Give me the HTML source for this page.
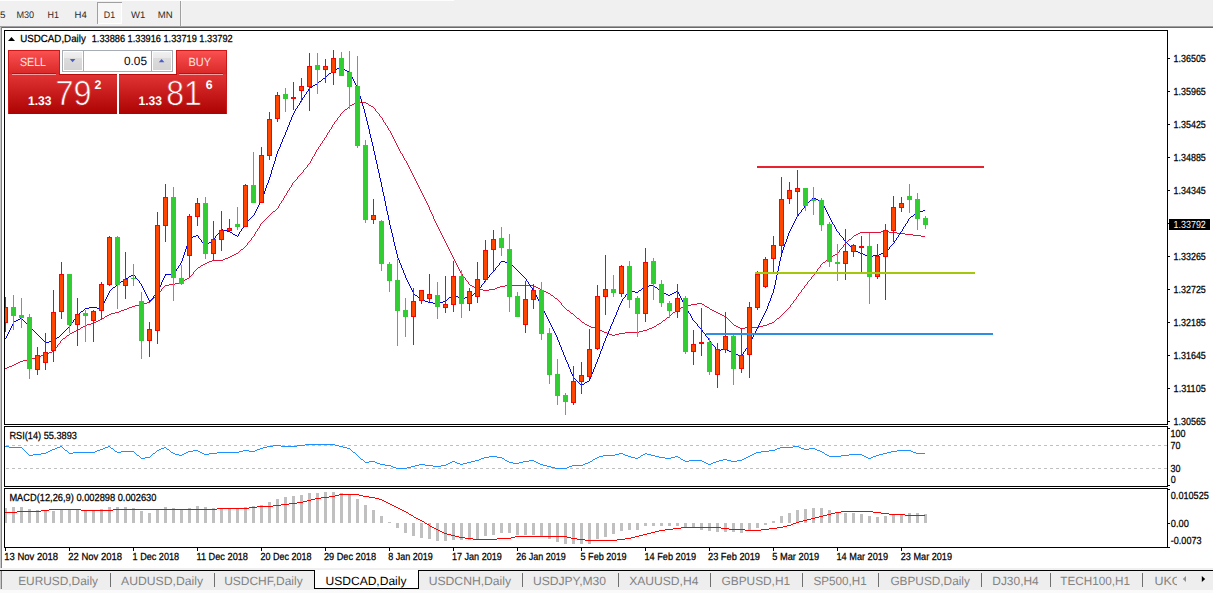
<!DOCTYPE html><html><head><meta charset="utf-8"><title>USDCAD,Daily</title>
<style>html,body{margin:0;padding:0;background:#fff;}body{width:1213px;height:593px;overflow:hidden;}svg{display:block}text{font-family:"Liberation Sans",sans-serif;text-rendering:geometricPrecision;}</style></head><body>
<svg width="1213" height="593" viewBox="0 0 1213 593">
<defs>
<linearGradient id="gbtn" x1="0" y1="0" x2="0" y2="1"><stop offset="0" stop-color="#fb5252"/><stop offset="1" stop-color="#d92626"/></linearGradient>
<linearGradient id="gbig" x1="0" y1="0" x2="0" y2="1"><stop offset="0" stop-color="#e23434"/><stop offset="1" stop-color="#ac0202"/></linearGradient>
<linearGradient id="gbigu" gradientUnits="userSpaceOnUse" x1="0" y1="74" x2="0" y2="114"><stop offset="0" stop-color="#e23434"/><stop offset="1" stop-color="#ac0202"/></linearGradient>
<linearGradient id="gsp" x1="0" y1="0" x2="0" y2="1"><stop offset="0" stop-color="#f0f0f0"/><stop offset="0.34" stop-color="#e8e8e8"/><stop offset="0.34" stop-color="#dcdcdc"/><stop offset="1" stop-color="#d4d4d4"/></linearGradient>
<clipPath id="cm"><rect x="5" y="31" width="1162" height="393"/></clipPath>
<clipPath id="cr"><rect x="5" y="427" width="1162" height="59"/></clipPath>
<clipPath id="cd"><rect x="5" y="489" width="1162" height="58"/></clipPath>
</defs>
<rect x="0" y="0" width="1213" height="593" fill="#ffffff"/>
<g shape-rendering="crispEdges">
<rect x="0" y="0" width="1213" height="26" fill="#f0f0f0"/><rect x="0" y="0" width="454" height="1" fill="#fdfdfd"/>
<rect x="0" y="26" width="1213" height="1" fill="#a0a0a0"/>
<rect x="0" y="27" width="1213" height="1" fill="#696969"/>
<rect x="0" y="27" width="1" height="544" fill="#c8c8c8"/>
<rect x="1" y="27" width="1" height="544" fill="#808080"/>
<rect x="98" y="3" width="23" height="21" fill="#f7f7f7"/><rect x="97" y="2" width="25" height="1" fill="#a0a0a0"/><rect x="97" y="2" width="1" height="22" fill="#a0a0a0"/><rect x="121" y="3" width="1" height="21" fill="#ffffff"/><rect x="98" y="23" width="24" height="1" fill="#ffffff"/>
<rect x="180" y="1" width="1" height="25" fill="#a0a0a0"/><rect x="181" y="1" width="1" height="25" fill="#f6f6f6"/>
</g>
<text x="-5.5" y="18" font-size="9.5" fill="#2a2a2a" textLength="11" lengthAdjust="spacingAndGlyphs">15</text>
<text x="16.4" y="18" font-size="9.5" fill="#2a2a2a" textLength="17.7" lengthAdjust="spacingAndGlyphs">M30</text>
<text x="47.6" y="18" font-size="9.5" fill="#2a2a2a" textLength="11.4" lengthAdjust="spacingAndGlyphs">H1</text>
<text x="74.6" y="18" font-size="9.5" fill="#2a2a2a" textLength="12.2" lengthAdjust="spacingAndGlyphs">H4</text>
<text x="103.8" y="18" font-size="9.5" fill="#2a2a2a" textLength="11.3" lengthAdjust="spacingAndGlyphs">D1</text>
<text x="131" y="18" font-size="9.5" fill="#2a2a2a" textLength="14.3" lengthAdjust="spacingAndGlyphs">W1</text>
<text x="157.7" y="18" font-size="9.5" fill="#2a2a2a" textLength="14.9" lengthAdjust="spacingAndGlyphs">MN</text>
<g shape-rendering="crispEdges" fill="none" stroke="#000" stroke-width="1">
<rect x="4.5" y="30.5" width="1163" height="394"/>
<rect x="4.5" y="426.5" width="1163" height="60"/>
<rect x="4.5" y="488.5" width="1163" height="59"/>
</g>
<path d="M5 368h2v1h-2zM7 367h2v1h-2zM9 366h3v1h-3zM12 365h2v1h-2zM14 364h2v1h-2zM16 363h2v1h-2zM18 362h2v1h-2zM20 361h3v1h-3zM23 360h4v1h-4zM27 359h4v1h-4zM31 358h4v1h-4zM35 357h4v1h-4zM39 356h2v1h-2zM41 355h3v1h-3zM44 354h3v1h-3zM47 353h2v1h-2zM49 352h3v1h-3zM52 351h2v1h-2zM54 349h1v2h-1zM55 348h1v1h-1zM56 347h1v1h-1zM57 345h1v2h-1zM58 344h1v1h-1zM59 343h1v1h-1zM60 341h1v2h-1zM61 340h1v1h-1zM62 339h1v1h-1zM63 338h2v1h-2zM65 337h1v1h-1zM66 336h1v1h-1zM67 335h2v1h-2zM69 334h1v1h-1zM70 333h2v1h-2zM72 332h2v1h-2zM74 331h2v1h-2zM76 330h2v1h-2zM78 329h2v1h-2zM80 328h1v1h-1zM81 327h2v1h-2zM83 326h2v1h-2zM85 325h2v1h-2zM87 324h4v1h-4zM91 323h3v1h-3zM94 322h2v1h-2zM96 321h2v1h-2zM98 320h2v1h-2zM100 319h2v1h-2zM102 318h2v1h-2zM104 317h1v1h-1zM105 316h2v1h-2zM107 315h2v1h-2zM109 314h2v1h-2zM111 313h4v1h-4zM115 312h4v1h-4zM119 311h2v1h-2zM121 310h3v1h-3zM124 309h3v1h-3zM127 308h2v1h-2zM129 307h3v1h-3zM132 306h3v1h-3zM135 305h4v1h-4zM139 304h4v1h-4zM143 303h4v1h-4zM147 302h3v1h-3zM150 301h1v1h-1zM151 300h1v1h-1zM152 299h1v1h-1zM153 298h1v1h-1zM154 297h1v1h-1zM155 296h1v1h-1zM156 295h1v1h-1zM157 294h1v1h-1zM158 293h1v1h-1zM159 292h1v1h-1zM160 291h1v1h-1zM161 289h1v2h-1zM162 288h1v1h-1zM163 287h1v1h-1zM164 286h1v1h-1zM165 285h4v1h-4zM169 284h6v1h-6zM175 283h4v1h-4zM179 282h3v1h-3zM182 281h2v1h-2zM184 280h1v1h-1zM185 279h2v1h-2zM187 278h2v1h-2zM189 277h1v1h-1zM190 276h1v1h-1zM191 275h1v1h-1zM192 274h1v1h-1zM193 272h1v2h-1zM194 271h1v1h-1zM195 270h1v1h-1zM196 269h1v1h-1zM197 268h1v1h-1zM198 267h2v1h-2zM200 266h1v1h-1zM201 265h2v1h-2zM203 264h2v1h-2zM205 263h2v1h-2zM207 262h2v1h-2zM209 261h3v1h-3zM212 260h11v1h-11zM223 259h2v1h-2zM225 258h3v1h-3zM228 257h2v1h-2zM230 256h2v1h-2zM232 255h2v1h-2zM234 254h2v1h-2zM236 253h2v1h-2zM238 252h1v1h-1zM239 251h1v1h-1zM240 250h1v1h-1zM241 249h2v1h-2zM243 248h1v1h-1zM244 247h1v1h-1zM245 246h1v1h-1zM246 245h1v1h-1zM247 243h1v2h-1zM248 242h1v1h-1zM249 241h1v1h-1zM250 240h1v1h-1zM251 238h1v2h-1zM252 237h1v1h-1zM253 236h1v1h-1zM254 234h1v2h-1zM255 232h1v2h-1zM256 231h1v1h-1zM257 229h1v2h-1zM258 228h1v1h-1zM259 226h1v2h-1zM260 224h1v2h-1zM261 223h1v1h-1zM262 222h1v1h-1zM263 221h1v1h-1zM264 220h1v1h-1zM265 219h1v1h-1zM266 218h1v1h-1zM267 217h1v1h-1zM268 216h1v1h-1zM269 215h1v1h-1zM270 214h1v1h-1zM271 213h1v1h-1zM272 212h1v1h-1zM273 211h2v1h-2zM275 210h1v1h-1zM276 209h1v1h-1zM277 208h1v1h-1zM278 206h1v2h-1zM279 204h1v2h-1zM280 203h1v1h-1zM281 201h1v2h-1zM282 200h1v1h-1zM283 198h1v2h-1zM284 196h1v2h-1zM285 195h1v1h-1zM286 193h1v2h-1zM287 191h1v2h-1zM288 190h1v1h-1zM289 188h1v2h-1zM290 187h1v1h-1zM291 185h1v2h-1zM292 183h1v2h-1zM293 182h1v1h-1zM294 181h1v1h-1zM295 180h1v1h-1zM296 179h1v1h-1zM297 177h1v2h-1zM298 176h1v1h-1zM299 175h1v1h-1zM300 174h1v1h-1zM301 173h1v1h-1zM302 172h1v1h-1zM303 170h1v2h-1zM304 169h1v1h-1zM305 168h1v1h-1zM306 167h1v1h-1zM307 165h1v2h-1zM308 164h1v1h-1zM309 163h1v1h-1zM310 161h1v2h-1zM311 159h1v2h-1zM312 157h1v2h-1zM313 156h1v1h-1zM314 154h1v2h-1zM315 152h1v2h-1zM316 150h1v2h-1zM317 149h1v1h-1zM318 147h1v2h-1zM319 146h1v1h-1zM320 144h1v2h-1zM321 143h1v1h-1zM322 141h1v2h-1zM323 140h1v1h-1zM324 138h1v2h-1zM325 137h1v1h-1zM326 135h1v2h-1zM327 133h1v2h-1zM328 132h1v1h-1zM329 130h1v2h-1zM330 129h1v1h-1zM331 127h1v2h-1zM332 125h1v2h-1zM333 124h1v1h-1zM334 122h1v2h-1zM335 121h1v1h-1zM336 120h1v1h-1zM337 118h1v2h-1zM338 117h1v1h-1zM339 116h1v1h-1zM340 114h1v2h-1zM341 113h1v1h-1zM342 112h1v1h-1zM343 111h1v1h-1zM344 110h1v1h-1zM345 109h2v1h-2zM347 108h1v1h-1zM348 107h1v1h-1zM349 106h1v1h-1zM350 105h2v1h-2zM352 104h2v1h-2zM354 103h2v1h-2zM356 102h10v1h-10zM366 103h2v1h-2zM368 104h1v1h-1zM369 105h2v1h-2zM371 106h2v1h-2zM373 107h1v1h-1zM374 108h1v1h-1zM375 109h1v2h-1zM376 111h1v1h-1zM377 112h1v1h-1zM378 113h1v1h-1zM379 114h1v2h-1zM380 116h1v1h-1zM381 117h1v1h-1zM382 118h1v2h-1zM383 120h1v2h-1zM384 122h1v1h-1zM385 123h1v2h-1zM386 125h1v1h-1zM387 126h1v2h-1zM388 128h1v2h-1zM389 130h1v1h-1zM390 131h1v2h-1zM391 133h1v2h-1zM392 135h1v2h-1zM393 137h1v2h-1zM394 139h1v2h-1zM395 141h1v2h-1zM396 143h1v2h-1zM397 145h1v2h-1zM398 147h1v2h-1zM399 149h1v2h-1zM400 151h1v2h-1zM401 153h1v1h-1zM402 154h1v2h-1zM403 156h1v2h-1zM404 158h1v2h-1zM405 160h1v1h-1zM406 161h1v2h-1zM407 163h1v2h-1zM408 165h1v2h-1zM409 167h1v2h-1zM410 169h1v2h-1zM411 171h1v2h-1zM412 173h1v2h-1zM413 175h1v2h-1zM414 177h1v2h-1zM415 179h1v2h-1zM416 181h1v2h-1zM417 183h1v2h-1zM418 185h1v2h-1zM419 187h1v2h-1zM420 189h1v2h-1zM421 191h1v2h-1zM422 193h1v2h-1zM423 195h1v2h-1zM424 197h1v2h-1zM425 199h1v2h-1zM426 201h1v2h-1zM427 203h1v2h-1zM428 205h1v2h-1zM429 207h1v3h-1zM430 210h1v2h-1zM431 212h1v2h-1zM432 214h1v2h-1zM433 216h1v3h-1zM434 219h1v2h-1zM435 221h1v2h-1zM436 223h1v2h-1zM437 225h1v2h-1zM438 227h1v2h-1zM439 229h1v2h-1zM440 231h1v2h-1zM441 233h1v2h-1zM442 235h1v2h-1zM443 237h1v2h-1zM444 239h1v2h-1zM445 241h1v2h-1zM446 243h1v2h-1zM447 245h1v2h-1zM448 247h1v2h-1zM449 249h1v2h-1zM450 251h1v2h-1zM451 253h1v2h-1zM452 255h1v2h-1zM453 257h1v2h-1zM454 259h1v2h-1zM455 261h1v2h-1zM456 263h1v2h-1zM457 265h1v2h-1zM458 267h1v2h-1zM459 269h1v2h-1zM460 271h1v2h-1zM461 273h1v1h-1zM462 274h1v2h-1zM463 276h1v1h-1zM464 277h1v1h-1zM465 278h1v2h-1zM466 280h1v1h-1zM467 281h1v1h-1zM468 282h1v2h-1zM469 284h1v1h-1zM470 285h2v1h-2zM472 286h2v1h-2zM474 287h2v1h-2zM476 288h3v1h-3zM479 289h4v1h-4zM483 290h6v1h-6zM489 289h6v1h-6zM495 288h2v1h-2zM497 287h3v1h-3zM500 286h5v1h-5zM505 285h29v1h-29zM534 286h2v1h-2zM536 287h2v1h-2zM538 288h2v1h-2zM540 289h2v1h-2zM542 290h2v1h-2zM544 291h2v1h-2zM546 292h2v1h-2zM548 293h2v1h-2zM550 294h1v1h-1zM551 295h2v1h-2zM553 296h1v1h-1zM554 297h1v1h-1zM555 298h2v1h-2zM557 299h1v1h-1zM558 300h1v1h-1zM559 301h1v1h-1zM560 302h1v1h-1zM561 303h1v2h-1zM562 305h1v1h-1zM563 306h1v1h-1zM564 307h1v1h-1zM565 308h1v1h-1zM566 309h1v1h-1zM567 310h2v1h-2zM569 311h1v1h-1zM570 312h1v1h-1zM571 313h2v1h-2zM573 314h1v1h-1zM574 315h1v1h-1zM575 316h1v1h-1zM576 317h1v1h-1zM577 318h2v1h-2zM579 319h1v1h-1zM580 320h1v1h-1zM581 321h1v1h-1zM582 322h2v1h-2zM584 323h1v1h-1zM585 324h2v1h-2zM587 325h2v1h-2zM589 326h2v1h-2zM591 327h4v1h-4zM595 328h3v1h-3zM598 329h2v1h-2zM600 330h2v1h-2zM602 331h2v1h-2zM604 332h3v1h-3zM607 333h2v1h-2zM609 334h3v1h-3zM612 335h3v1h-3zM615 334h4v1h-4zM619 333h6v1h-6zM625 332h14v1h-14zM639 331h4v1h-4zM643 330h4v1h-4zM647 329h2v1h-2zM649 328h3v1h-3zM652 327h2v1h-2zM654 326h2v1h-2zM656 325h1v1h-1zM657 324h2v1h-2zM659 323h2v1h-2zM661 322h1v1h-1zM662 321h1v1h-1zM663 320h2v1h-2zM665 319h1v1h-1zM666 318h1v1h-1zM667 317h2v1h-2zM669 316h1v1h-1zM670 315h1v1h-1zM671 314h1v1h-1zM672 313h1v1h-1zM673 312h2v1h-2zM675 311h1v1h-1zM676 310h1v1h-1zM677 309h2v1h-2zM679 308h2v1h-2zM681 307h3v1h-3zM684 306h3v1h-3zM687 305h4v1h-4zM691 304h6v1h-6zM697 303h5v1h-5zM702 304h2v1h-2zM704 305h1v1h-1zM705 306h2v1h-2zM707 307h2v1h-2zM709 308h1v1h-1zM710 309h2v1h-2zM712 310h2v1h-2zM714 311h2v1h-2zM716 312h2v1h-2zM718 313h2v1h-2zM720 314h2v1h-2zM722 315h2v1h-2zM724 316h2v1h-2zM726 317h1v1h-1zM727 318h1v1h-1zM728 319h1v1h-1zM729 320h1v1h-1zM730 321h1v1h-1zM731 322h1v1h-1zM732 323h1v1h-1zM733 324h1v1h-1zM734 325h2v1h-2zM736 326h2v1h-2zM738 327h2v1h-2zM740 328h5v1h-5zM745 327h14v1h-14zM759 326h4v1h-4zM763 325h4v1h-4zM767 324h2v1h-2zM769 323h3v1h-3zM772 322h2v1h-2zM774 321h1v1h-1zM775 320h1v1h-1zM776 319h1v1h-1zM777 318h2v1h-2zM779 317h1v1h-1zM780 316h1v1h-1zM781 315h1v1h-1zM782 314h1v1h-1zM783 313h1v1h-1zM784 312h1v1h-1zM785 311h1v1h-1zM786 310h1v1h-1zM787 309h1v1h-1zM788 308h1v1h-1zM789 307h1v1h-1zM790 305h1v2h-1zM791 304h1v1h-1zM792 303h1v1h-1zM793 301h1v2h-1zM794 300h1v1h-1zM795 299h1v1h-1zM796 297h1v2h-1zM797 296h1v1h-1zM798 294h1v2h-1zM799 293h1v1h-1zM800 292h1v1h-1zM801 290h1v2h-1zM802 289h1v1h-1zM803 288h1v1h-1zM804 286h1v2h-1zM805 285h1v1h-1zM806 284h1v1h-1zM807 282h1v2h-1zM808 281h1v1h-1zM809 280h1v1h-1zM810 279h1v1h-1zM811 277h1v2h-1zM812 276h1v1h-1zM813 275h1v1h-1zM814 273h1v2h-1zM815 272h1v1h-1zM816 271h1v1h-1zM817 269h1v2h-1zM818 268h1v1h-1zM819 267h1v1h-1zM820 265h1v2h-1zM821 264h1v1h-1zM822 263h1v1h-1zM823 262h2v1h-2zM825 261h1v1h-1zM826 260h1v1h-1zM827 259h2v1h-2zM829 258h1v1h-1zM830 257h2v1h-2zM832 256h1v1h-1zM833 255h2v1h-2zM835 254h2v1h-2zM837 253h1v1h-1zM838 252h1v1h-1zM839 250h1v2h-1zM840 249h1v1h-1zM841 248h1v1h-1zM842 247h1v1h-1zM843 245h1v2h-1zM844 244h1v1h-1zM845 243h1v1h-1zM846 242h1v1h-1zM847 241h1v1h-1zM848 240h1v1h-1zM849 239h2v1h-2zM851 238h1v1h-1zM852 237h1v1h-1zM853 236h1v1h-1zM854 235h2v1h-2zM856 234h2v1h-2zM858 233h2v1h-2zM860 232h21v1h-21zM881 231h8v1h-8zM889 232h8v1h-8zM897 233h8v1h-8zM905 234h8v1h-8zM913 235h8v1h-8zM921 236h4v1h-4z" fill="#dc143c" clip-path="url(#cm)" shape-rendering="crispEdges"/>
<path d="M5 338h1v1h-1zM6 336h1v2h-1zM7 334h1v2h-1zM8 332h1v2h-1zM9 330h1v2h-1zM10 328h1v2h-1zM11 326h1v2h-1zM12 324h1v2h-1zM13 322h1v2h-1zM14 321h2v1h-2zM16 320h2v1h-2zM18 319h2v1h-2zM20 318h2v1h-2zM22 319h1v1h-1zM23 320h1v1h-1zM24 321h1v1h-1zM25 322h1v1h-1zM26 323h1v1h-1zM27 324h1v1h-1zM28 325h1v1h-1zM29 326h1v1h-1zM30 327h1v1h-1zM31 328h1v1h-1zM32 329h1v1h-1zM33 330h1v1h-1zM34 331h1v1h-1zM35 332h1v1h-1zM36 333h1v1h-1zM37 334h1v1h-1zM38 335h1v1h-1zM39 336h1v1h-1zM40 337h1v1h-1zM41 338h1v1h-1zM42 339h1v1h-1zM43 340h1v1h-1zM44 341h1v1h-1zM45 342h4v1h-4zM49 341h5v1h-5zM54 340h1v1h-1zM55 339h1v1h-1zM56 338h1v1h-1zM57 337h2v1h-2zM59 336h1v1h-1zM60 335h1v1h-1zM61 334h1v1h-1zM62 333h1v1h-1zM63 332h1v1h-1zM64 331h1v1h-1zM65 330h1v1h-1zM66 329h1v1h-1zM67 328h1v1h-1zM68 327h1v1h-1zM69 326h1v1h-1zM70 324h1v2h-1zM71 323h1v1h-1zM72 322h1v1h-1zM73 320h1v2h-1zM74 319h1v1h-1zM75 318h1v1h-1zM76 316h1v2h-1zM77 315h1v1h-1zM78 314h1v1h-1zM79 313h1v1h-1zM80 312h1v1h-1zM81 311h2v1h-2zM83 310h1v1h-1zM84 309h1v1h-1zM85 308h4v1h-4zM89 307h8v1h-8zM97 308h5v1h-5zM101 307h1v1h-1zM102 305h1v2h-1zM103 303h1v2h-1zM104 301h1v2h-1zM105 299h1v2h-1zM106 297h1v2h-1zM107 295h1v2h-1zM108 293h1v2h-1zM109 291h1v2h-1zM110 290h1v1h-1zM111 289h1v1h-1zM112 288h1v1h-1zM113 287h2v1h-2zM115 286h1v1h-1zM116 285h1v1h-1zM117 284h1v1h-1zM118 283h2v1h-2zM120 282h1v1h-1zM121 281h2v1h-2zM123 280h2v1h-2zM125 279h1v1h-1zM126 278h2v1h-2zM128 277h1v1h-1zM129 276h2v1h-2zM131 275h2v1h-2zM133 274h1v1h-1zM134 275h1v1h-1zM135 276h1v2h-1zM136 278h1v1h-1zM137 279h1v1h-1zM138 280h1v1h-1zM139 281h1v2h-1zM140 283h1v1h-1zM141 284h1v2h-1zM142 286h1v2h-1zM143 288h1v2h-1zM144 290h1v2h-1zM145 292h1v2h-1zM146 294h1v2h-1zM147 296h1v2h-1zM148 298h1v2h-1zM149 300h2v1h-2zM149 301h1v1h-1zM151 299h1v1h-1zM152 298h1v1h-1zM153 296h1v2h-1zM154 295h1v1h-1zM155 294h1v1h-1zM156 293h1v1h-1zM157 291h1v2h-1zM158 289h1v2h-1zM159 287h1v2h-1zM160 285h1v2h-1zM161 282h1v3h-1zM162 280h1v2h-1zM163 278h1v2h-1zM164 276h1v2h-1zM165 274h9v1h-9zM165 275h1v1h-1zM174 272h1v2h-1zM175 271h1v1h-1zM176 269h1v2h-1zM177 268h1v1h-1zM178 266h1v2h-1zM179 265h1v1h-1zM180 263h1v2h-1zM181 261h1v2h-1zM182 258h1v3h-1zM183 255h1v3h-1zM184 252h1v3h-1zM185 249h1v3h-1zM186 246h1v3h-1zM187 243h1v3h-1zM188 240h1v3h-1zM189 238h2v1h-2zM189 239h1v1h-1zM191 237h2v1h-2zM193 236h3v1h-3zM196 235h2v1h-2zM198 236h1v2h-1zM199 238h1v1h-1zM200 239h1v1h-1zM201 240h1v2h-1zM202 242h1v1h-1zM203 243h1v1h-1zM204 244h1v2h-1zM205 246h1v1h-1zM206 245h1v1h-1zM207 244h1v1h-1zM208 243h1v1h-1zM209 242h2v1h-2zM211 241h1v1h-1zM212 240h1v1h-1zM213 239h1v1h-1zM214 238h1v1h-1zM215 236h1v2h-1zM216 235h1v1h-1zM217 234h1v1h-1zM218 233h1v1h-1zM219 231h1v2h-1zM220 230h1v1h-1zM221 229h2v1h-2zM223 230h4v1h-4zM227 231h3v1h-3zM230 232h2v1h-2zM232 233h1v1h-1zM233 234h2v1h-2zM235 235h2v1h-2zM237 236h1v1h-1zM238 234h1v2h-1zM239 232h1v2h-1zM240 231h1v1h-1zM241 229h1v2h-1zM242 228h1v1h-1zM243 226h1v2h-1zM244 224h1v2h-1zM245 223h1v1h-1zM246 222h1v1h-1zM247 221h1v1h-1zM248 220h1v1h-1zM249 219h1v1h-1zM250 218h1v1h-1zM251 217h1v1h-1zM252 216h1v1h-1zM253 215h1v1h-1zM254 213h1v2h-1zM255 211h1v2h-1zM256 209h1v2h-1zM257 207h1v2h-1zM258 205h1v2h-1zM259 203h1v2h-1zM260 201h1v2h-1zM261 199h1v2h-1zM262 196h1v3h-1zM263 194h1v2h-1zM264 191h1v3h-1zM265 188h1v3h-1zM266 185h1v3h-1zM267 183h1v2h-1zM268 180h1v3h-1zM269 177h1v3h-1zM270 174h1v3h-1zM271 170h1v4h-1zM272 167h1v3h-1zM273 164h1v3h-1zM274 161h1v3h-1zM275 157h1v4h-1zM276 154h1v3h-1zM277 151h1v3h-1zM278 149h1v2h-1zM279 147h1v2h-1zM280 144h1v3h-1zM281 142h1v2h-1zM282 139h1v3h-1zM283 137h1v2h-1zM284 135h1v2h-1zM285 132h1v3h-1zM286 130h1v2h-1zM287 127h1v3h-1zM288 125h1v2h-1zM289 122h1v3h-1zM290 120h1v2h-1zM291 117h1v3h-1zM292 115h1v2h-1zM293 113h1v2h-1zM294 111h1v2h-1zM295 109h1v2h-1zM296 108h1v1h-1zM297 106h1v2h-1zM298 105h1v1h-1zM299 103h1v2h-1zM300 101h1v2h-1zM301 100h1v1h-1zM302 98h1v2h-1zM303 97h1v1h-1zM304 95h1v2h-1zM305 94h1v1h-1zM306 92h1v2h-1zM307 91h1v1h-1zM308 89h1v2h-1zM309 88h1v1h-1zM310 87h2v1h-2zM312 86h1v1h-1zM313 85h2v1h-2zM315 84h2v1h-2zM317 83h1v1h-1zM318 82h1v1h-1zM319 81h2v1h-2zM321 80h1v1h-1zM322 79h1v1h-1zM323 78h2v1h-2zM325 77h1v1h-1zM326 76h1v1h-1zM327 75h1v1h-1zM328 74h1v1h-1zM329 73h2v1h-2zM331 72h1v1h-1zM332 71h1v1h-1zM333 70h2v1h-2zM335 69h2v1h-2zM337 68h3v1h-3zM340 67h2v1h-2zM342 68h2v1h-2zM344 69h1v1h-1zM345 70h2v1h-2zM347 71h2v1h-2zM349 72h1v1h-1zM350 73h1v2h-1zM351 75h1v2h-1zM352 77h1v2h-1zM353 79h1v2h-1zM354 81h1v2h-1zM355 83h1v2h-1zM356 85h1v2h-1zM357 87h1v2h-1zM358 89h1v4h-1zM359 93h1v3h-1zM360 96h1v3h-1zM361 99h1v4h-1zM362 103h1v3h-1zM363 106h1v3h-1zM364 109h1v4h-1zM365 113h1v4h-1zM366 117h1v4h-1zM367 121h1v4h-1zM368 125h1v4h-1zM369 129h1v5h-1zM370 134h1v4h-1zM371 138h1v4h-1zM372 142h1v4h-1zM373 146h1v5h-1zM374 151h1v4h-1zM375 155h1v5h-1zM376 160h1v4h-1zM377 164h1v5h-1zM378 169h1v4h-1zM379 173h1v5h-1zM380 178h1v4h-1zM381 182h1v5h-1zM382 187h1v5h-1zM383 192h1v4h-1zM384 196h1v5h-1zM385 201h1v5h-1zM386 206h1v5h-1zM387 211h1v4h-1zM388 215h1v5h-1zM389 220h1v5h-1zM390 225h1v4h-1zM391 229h1v4h-1zM392 233h1v4h-1zM393 237h1v5h-1zM394 242h1v4h-1zM395 246h1v4h-1zM396 250h1v4h-1zM397 254h1v4h-1zM398 258h1v2h-1zM399 260h1v3h-1zM400 263h1v2h-1zM401 265h1v3h-1zM402 268h1v2h-1zM403 270h1v3h-1zM404 273h1v2h-1zM405 275h1v3h-1zM406 278h1v2h-1zM407 280h1v2h-1zM408 282h1v2h-1zM409 284h1v2h-1zM410 286h1v2h-1zM411 288h1v2h-1zM412 290h1v2h-1zM413 292h1v2h-1zM414 294h1v1h-1zM415 295h2v1h-2zM417 296h1v1h-1zM418 297h1v1h-1zM419 298h2v1h-2zM421 299h2v1h-2zM423 300h2v1h-2zM425 301h3v1h-3zM428 302h5v1h-5zM433 303h6v1h-6zM439 302h4v1h-4zM443 301h3v1h-3zM446 300h1v1h-1zM447 299h1v1h-1zM448 298h1v1h-1zM449 297h2v1h-2zM451 296h1v1h-1zM452 295h1v1h-1zM453 294h1v1h-1zM454 295h2v1h-2zM456 296h2v1h-2zM458 297h2v1h-2zM460 298h5v1h-5zM465 297h5v1h-5zM470 296h1v1h-1zM471 295h2v1h-2zM473 294h1v1h-1zM474 293h1v1h-1zM475 292h2v1h-2zM477 291h1v1h-1zM478 289h1v2h-1zM479 288h1v1h-1zM480 287h1v1h-1zM481 285h1v2h-1zM482 284h1v1h-1zM483 283h1v1h-1zM484 281h1v2h-1zM485 280h1v1h-1zM486 279h1v1h-1zM487 278h1v1h-1zM488 277h1v1h-1zM489 275h1v2h-1zM490 274h1v1h-1zM491 273h1v1h-1zM492 272h1v1h-1zM493 271h1v1h-1zM494 270h1v1h-1zM495 268h1v2h-1zM496 267h1v1h-1zM497 266h1v1h-1zM498 265h1v1h-1zM499 263h1v2h-1zM500 262h1v1h-1zM501 261h4v1h-4zM505 262h5v1h-5zM510 263h1v1h-1zM511 264h1v1h-1zM512 265h1v1h-1zM513 266h1v1h-1zM514 267h1v1h-1zM515 268h1v1h-1zM516 269h1v1h-1zM517 270h1v1h-1zM518 271h1v1h-1zM519 272h1v1h-1zM520 273h1v1h-1zM521 274h1v1h-1zM522 275h1v1h-1zM523 276h1v1h-1zM524 277h1v1h-1zM525 278h1v1h-1zM526 279h1v2h-1zM527 281h1v1h-1zM528 282h1v2h-1zM529 284h1v1h-1zM530 285h1v2h-1zM531 287h1v1h-1zM532 288h1v2h-1zM533 290h1v1h-1zM534 291h1v2h-1zM535 293h1v2h-1zM536 295h1v2h-1zM537 297h1v2h-1zM538 299h1v2h-1zM539 301h1v2h-1zM540 303h1v2h-1zM541 305h1v2h-1zM542 307h1v2h-1zM543 309h1v2h-1zM544 311h1v2h-1zM545 313h1v2h-1zM546 315h1v2h-1zM547 317h1v2h-1zM548 319h1v2h-1zM549 321h1v2h-1zM550 323h1v2h-1zM551 325h1v2h-1zM552 327h1v2h-1zM553 329h1v2h-1zM554 331h1v2h-1zM555 333h1v2h-1zM556 335h1v2h-1zM557 337h1v3h-1zM558 340h1v2h-1zM559 342h1v3h-1zM560 345h1v2h-1zM561 347h1v3h-1zM562 350h1v2h-1zM563 352h1v3h-1zM564 355h1v2h-1zM565 357h1v3h-1zM566 360h1v2h-1zM567 362h1v2h-1zM568 364h1v3h-1zM569 367h1v2h-1zM570 369h1v3h-1zM571 372h1v2h-1zM572 374h1v2h-1zM573 376h1v2h-1zM574 378h1v1h-1zM575 379h1v1h-1zM576 380h1v1h-1zM577 381h1v1h-1zM578 382h1v1h-1zM579 383h1v1h-1zM580 384h1v1h-1zM581 385h1v1h-1zM582 384h2v1h-2zM584 383h1v1h-1zM585 382h2v1h-2zM587 381h2v1h-2zM589 379h1v2h-1zM590 377h1v2h-1zM591 374h1v3h-1zM592 372h1v2h-1zM593 369h1v3h-1zM594 367h1v2h-1zM595 364h1v3h-1zM596 362h1v2h-1zM597 359h1v3h-1zM598 357h1v2h-1zM599 354h1v3h-1zM600 351h1v3h-1zM601 349h1v2h-1zM602 346h1v3h-1zM603 343h1v3h-1zM604 341h1v2h-1zM605 338h1v3h-1zM606 336h1v2h-1zM607 334h1v2h-1zM608 331h1v3h-1zM609 329h1v2h-1zM610 326h1v3h-1zM611 324h1v2h-1zM612 322h1v2h-1zM613 319h1v3h-1zM614 317h1v2h-1zM615 315h1v2h-1zM616 312h1v3h-1zM617 310h1v2h-1zM618 307h1v3h-1zM619 305h1v2h-1zM620 303h1v2h-1zM621 301h1v2h-1zM622 299h1v2h-1zM623 298h1v1h-1zM624 297h1v1h-1zM625 295h1v2h-1zM626 294h1v1h-1zM627 293h1v1h-1zM628 291h1v2h-1zM629 290h2v1h-2zM631 291h4v1h-4zM635 292h3v1h-3zM638 291h1v1h-1zM639 290h2v1h-2zM641 289h1v1h-1zM642 288h1v1h-1zM643 287h2v1h-2zM645 286h4v1h-4zM649 285h5v1h-5zM654 286h1v1h-1zM655 287h2v1h-2zM657 288h1v1h-1zM658 289h1v1h-1zM659 290h2v1h-2zM661 291h1v1h-1zM662 292h2v1h-2zM664 293h2v1h-2zM666 294h2v1h-2zM668 295h2v1h-2zM670 294h2v1h-2zM672 293h2v1h-2zM674 292h2v1h-2zM676 291h2v1h-2zM678 292h1v2h-1zM679 294h1v2h-1zM680 296h1v2h-1zM681 298h1v2h-1zM682 300h1v2h-1zM683 302h1v2h-1zM684 304h1v2h-1zM685 306h1v1h-1zM686 307h1v2h-1zM687 309h1v2h-1zM688 311h1v2h-1zM689 313h1v1h-1zM690 314h1v2h-1zM691 316h1v2h-1zM692 318h1v2h-1zM693 320h1v1h-1zM694 321h1v1h-1zM695 322h1v1h-1zM696 323h1v1h-1zM697 324h1v2h-1zM698 326h1v1h-1zM699 327h1v1h-1zM700 328h1v1h-1zM701 329h1v1h-1zM702 330h1v2h-1zM703 332h1v1h-1zM704 333h1v1h-1zM705 334h1v2h-1zM706 336h1v1h-1zM707 337h1v1h-1zM708 338h1v2h-1zM709 340h1v1h-1zM710 341h1v1h-1zM711 342h1v2h-1zM712 344h1v1h-1zM713 345h1v1h-1zM714 346h1v1h-1zM715 347h1v2h-1zM716 349h1v1h-1zM717 350h4v1h-4zM721 349h6v1h-6zM727 350h2v1h-2zM729 351h3v1h-3zM732 352h2v1h-2zM734 353h2v1h-2zM736 354h2v1h-2zM738 355h2v1h-2zM740 356h2v1h-2zM742 354h1v2h-1zM743 352h1v2h-1zM744 351h1v1h-1zM745 349h1v2h-1zM746 348h1v1h-1zM747 346h1v2h-1zM748 344h1v2h-1zM749 343h1v1h-1zM750 341h1v2h-1zM751 339h1v2h-1zM752 337h1v2h-1zM753 335h1v2h-1zM754 333h1v2h-1zM755 331h1v2h-1zM756 329h1v2h-1zM757 327h1v2h-1zM758 325h1v2h-1zM759 323h1v2h-1zM760 321h1v2h-1zM761 319h1v2h-1zM762 317h1v2h-1zM763 315h1v2h-1zM764 313h1v2h-1zM765 311h1v2h-1zM766 309h1v2h-1zM767 306h1v3h-1zM768 303h1v3h-1zM769 301h1v2h-1zM770 298h1v3h-1zM771 295h1v3h-1zM772 293h1v2h-1zM773 289h1v4h-1zM774 285h1v4h-1zM775 280h1v5h-1zM776 275h1v5h-1zM777 271h1v4h-1zM778 266h1v5h-1zM779 261h1v5h-1zM780 257h1v4h-1zM781 253h1v4h-1zM782 250h1v3h-1zM783 247h1v3h-1zM784 244h1v3h-1zM785 242h1v2h-1zM786 239h1v3h-1zM787 236h1v3h-1zM788 233h1v3h-1zM789 231h1v2h-1zM790 229h1v2h-1zM791 227h1v2h-1zM792 225h1v2h-1zM793 223h1v2h-1zM794 221h1v2h-1zM795 219h1v2h-1zM796 217h1v2h-1zM797 216h1v1h-1zM798 214h1v2h-1zM799 213h1v1h-1zM800 212h1v1h-1zM801 210h1v2h-1zM802 209h1v1h-1zM803 208h1v1h-1zM804 206h1v2h-1zM805 205h1v1h-1zM806 204h1v1h-1zM807 203h1v1h-1zM808 202h1v1h-1zM809 201h1v1h-1zM810 200h1v1h-1zM811 199h1v1h-1zM812 198h1v1h-1zM813 197h1v1h-1zM814 198h2v1h-2zM816 199h2v1h-2zM818 200h2v1h-2zM820 201h2v1h-2zM822 202h1v2h-1zM823 204h1v2h-1zM824 206h1v2h-1zM825 208h1v2h-1zM826 210h1v2h-1zM827 212h1v2h-1zM828 214h1v2h-1zM829 216h1v2h-1zM830 218h1v2h-1zM831 220h1v2h-1zM832 222h1v2h-1zM833 224h1v1h-1zM834 225h1v2h-1zM835 227h1v2h-1zM836 229h1v2h-1zM837 231h1v1h-1zM838 232h1v1h-1zM839 233h1v2h-1zM840 235h1v1h-1zM841 236h1v1h-1zM842 237h1v1h-1zM843 238h1v2h-1zM844 240h1v1h-1zM845 241h1v1h-1zM846 242h1v1h-1zM847 243h1v1h-1zM848 244h1v1h-1zM849 245h1v1h-1zM850 246h1v1h-1zM851 247h1v1h-1zM852 248h1v1h-1zM853 249h1v1h-1zM854 250h2v1h-2zM856 251h2v1h-2zM858 252h2v1h-2zM860 253h3v1h-3zM863 254h2v1h-2zM865 255h3v1h-3zM868 256h5v1h-5zM873 255h6v1h-6zM879 254h2v1h-2zM881 253h3v1h-3zM884 252h2v1h-2zM886 251h1v1h-1zM887 250h1v1h-1zM888 249h1v1h-1zM889 247h1v2h-1zM890 246h1v1h-1zM891 245h1v1h-1zM892 244h1v1h-1zM893 243h1v1h-1zM894 241h1v2h-1zM895 240h1v1h-1zM896 238h1v2h-1zM897 237h1v1h-1zM898 235h1v2h-1zM899 234h1v1h-1zM900 232h1v2h-1zM901 231h1v1h-1zM902 229h1v2h-1zM903 227h1v2h-1zM904 226h1v1h-1zM905 224h1v2h-1zM906 223h1v1h-1zM907 221h1v2h-1zM908 219h1v2h-1zM909 218h1v1h-1zM910 217h1v1h-1zM911 216h2v1h-2zM913 215h1v1h-1zM914 214h1v1h-1zM915 213h2v1h-2zM917 212h2v1h-2zM919 211h4v1h-4zM923 210h2v1h-2z" fill="#0000e0" clip-path="url(#cm)" shape-rendering="crispEdges"/>
<g shape-rendering="crispEdges" clip-path="url(#cm)">
<rect x="5" y="297" width="1" height="35" fill="#ff0000"/>
<rect x="3" y="307" width="5" height="16" fill="#ff0000"/>
<rect x="4" y="308" width="3" height="14" fill="#ff4500"/>
<rect x="13" y="295" width="1" height="35" fill="#32cd32"/>
<rect x="11" y="307" width="5" height="9" fill="#32cd32"/>
<rect x="21" y="298" width="1" height="30" fill="#32cd32"/>
<rect x="19" y="315" width="5" height="3" fill="#32cd32"/>
<rect x="29" y="314" width="1" height="65" fill="#32cd32"/>
<rect x="27" y="317" width="5" height="52" fill="#32cd32"/>
<rect x="37" y="347" width="1" height="28" fill="#ff0000"/>
<rect x="35" y="355" width="5" height="15" fill="#ff0000"/>
<rect x="36" y="356" width="3" height="13" fill="#ff4500"/>
<rect x="45" y="333" width="1" height="37" fill="#ff0000"/>
<rect x="43" y="352" width="5" height="11" fill="#ff0000"/>
<rect x="44" y="353" width="3" height="9" fill="#ff4500"/>
<rect x="53" y="290" width="1" height="72" fill="#ff0000"/>
<rect x="51" y="312" width="5" height="39" fill="#ff0000"/>
<rect x="52" y="313" width="3" height="37" fill="#ff4500"/>
<rect x="61" y="262" width="1" height="57" fill="#ff0000"/>
<rect x="59" y="274" width="5" height="38" fill="#ff0000"/>
<rect x="60" y="275" width="3" height="36" fill="#ff4500"/>
<rect x="69" y="274" width="1" height="59" fill="#32cd32"/>
<rect x="67" y="274" width="5" height="51" fill="#32cd32"/>
<rect x="77" y="298" width="1" height="48" fill="#ff0000"/>
<rect x="75" y="314" width="5" height="11" fill="#ff0000"/>
<rect x="76" y="315" width="3" height="9" fill="#ff4500"/>
<rect x="85" y="310" width="1" height="32" fill="#32cd32"/>
<rect x="83" y="313" width="5" height="3" fill="#32cd32"/>
<rect x="93" y="310" width="1" height="32" fill="#ff0000"/>
<rect x="91" y="311" width="5" height="10" fill="#ff0000"/>
<rect x="92" y="312" width="3" height="8" fill="#ff4500"/>
<rect x="101" y="282" width="1" height="37" fill="#ff0000"/>
<rect x="99" y="284" width="5" height="27" fill="#ff0000"/>
<rect x="100" y="285" width="3" height="25" fill="#ff4500"/>
<rect x="109" y="236" width="1" height="50" fill="#ff0000"/>
<rect x="107" y="237" width="5" height="48" fill="#ff0000"/>
<rect x="108" y="238" width="3" height="46" fill="#ff4500"/>
<rect x="117" y="236" width="1" height="73" fill="#32cd32"/>
<rect x="115" y="237" width="5" height="48" fill="#32cd32"/>
<rect x="125" y="252" width="1" height="47" fill="#ff0000"/>
<rect x="123" y="279" width="5" height="7" fill="#ff0000"/>
<rect x="124" y="280" width="3" height="5" fill="#ff4500"/>
<rect x="133" y="264" width="1" height="22" fill="#32cd32"/>
<rect x="131" y="278" width="5" height="1" fill="#32cd32"/>
<rect x="141" y="292" width="1" height="67" fill="#32cd32"/>
<rect x="139" y="301" width="5" height="40" fill="#32cd32"/>
<rect x="149" y="322" width="1" height="35" fill="#ff0000"/>
<rect x="147" y="329" width="5" height="12" fill="#ff0000"/>
<rect x="148" y="330" width="3" height="10" fill="#ff4500"/>
<rect x="157" y="212" width="1" height="132" fill="#ff0000"/>
<rect x="155" y="225" width="5" height="106" fill="#ff0000"/>
<rect x="156" y="226" width="3" height="104" fill="#ff4500"/>
<rect x="165" y="184" width="1" height="58" fill="#ff0000"/>
<rect x="163" y="197" width="5" height="29" fill="#ff0000"/>
<rect x="164" y="198" width="3" height="27" fill="#ff4500"/>
<rect x="173" y="187" width="1" height="114" fill="#32cd32"/>
<rect x="171" y="197" width="5" height="81" fill="#32cd32"/>
<rect x="181" y="265" width="1" height="20" fill="#32cd32"/>
<rect x="179" y="278" width="5" height="6" fill="#32cd32"/>
<rect x="189" y="214" width="1" height="63" fill="#ff0000"/>
<rect x="187" y="216" width="5" height="40" fill="#ff0000"/>
<rect x="188" y="217" width="3" height="38" fill="#ff4500"/>
<rect x="197" y="198" width="1" height="28" fill="#ff0000"/>
<rect x="195" y="203" width="5" height="14" fill="#ff0000"/>
<rect x="196" y="204" width="3" height="12" fill="#ff4500"/>
<rect x="205" y="197" width="1" height="62" fill="#32cd32"/>
<rect x="203" y="203" width="5" height="51" fill="#32cd32"/>
<rect x="213" y="221" width="1" height="39" fill="#ff0000"/>
<rect x="211" y="239" width="5" height="15" fill="#ff0000"/>
<rect x="212" y="240" width="3" height="13" fill="#ff4500"/>
<rect x="221" y="211" width="1" height="40" fill="#ff0000"/>
<rect x="219" y="230" width="5" height="10" fill="#ff0000"/>
<rect x="220" y="231" width="3" height="8" fill="#ff4500"/>
<rect x="229" y="219" width="1" height="12" fill="#ff0000"/>
<rect x="227" y="228" width="5" height="3" fill="#ff0000"/>
<rect x="228" y="229" width="3" height="1" fill="#ff4500"/>
<rect x="237" y="207" width="1" height="23" fill="#32cd32"/>
<rect x="235" y="224" width="5" height="3" fill="#32cd32"/>
<rect x="245" y="184" width="1" height="43" fill="#ff0000"/>
<rect x="243" y="185" width="5" height="42" fill="#ff0000"/>
<rect x="244" y="186" width="3" height="40" fill="#ff4500"/>
<rect x="253" y="152" width="1" height="51" fill="#32cd32"/>
<rect x="251" y="185" width="5" height="18" fill="#32cd32"/>
<rect x="261" y="147" width="1" height="56" fill="#ff0000"/>
<rect x="259" y="155" width="5" height="48" fill="#ff0000"/>
<rect x="260" y="156" width="3" height="46" fill="#ff4500"/>
<rect x="269" y="112" width="1" height="48" fill="#ff0000"/>
<rect x="267" y="119" width="5" height="37" fill="#ff0000"/>
<rect x="268" y="120" width="3" height="35" fill="#ff4500"/>
<rect x="277" y="92" width="1" height="30" fill="#ff0000"/>
<rect x="275" y="95" width="5" height="24" fill="#ff0000"/>
<rect x="276" y="96" width="3" height="22" fill="#ff4500"/>
<rect x="285" y="88" width="1" height="24" fill="#32cd32"/>
<rect x="283" y="94" width="5" height="5" fill="#32cd32"/>
<rect x="293" y="82" width="1" height="28" fill="#ff0000"/>
<rect x="291" y="97" width="5" height="2" fill="#ff0000"/>
<rect x="301" y="78" width="1" height="24" fill="#ff0000"/>
<rect x="299" y="86" width="5" height="5" fill="#ff0000"/>
<rect x="300" y="87" width="3" height="3" fill="#ff4500"/>
<rect x="309" y="53" width="1" height="58" fill="#ff0000"/>
<rect x="307" y="66" width="5" height="21" fill="#ff0000"/>
<rect x="308" y="67" width="3" height="19" fill="#ff4500"/>
<rect x="317" y="53" width="1" height="41" fill="#32cd32"/>
<rect x="315" y="65" width="5" height="5" fill="#32cd32"/>
<rect x="325" y="59" width="1" height="24" fill="#ff0000"/>
<rect x="323" y="66" width="5" height="4" fill="#ff0000"/>
<rect x="324" y="67" width="3" height="2" fill="#ff4500"/>
<rect x="333" y="50" width="1" height="35" fill="#ff0000"/>
<rect x="331" y="58" width="5" height="15" fill="#ff0000"/>
<rect x="332" y="59" width="3" height="13" fill="#ff4500"/>
<rect x="341" y="52" width="1" height="24" fill="#32cd32"/>
<rect x="339" y="58" width="5" height="18" fill="#32cd32"/>
<rect x="349" y="51" width="1" height="58" fill="#32cd32"/>
<rect x="347" y="72" width="5" height="15" fill="#32cd32"/>
<rect x="357" y="56" width="1" height="92" fill="#32cd32"/>
<rect x="355" y="86" width="5" height="60" fill="#32cd32"/>
<rect x="365" y="140" width="1" height="83" fill="#32cd32"/>
<rect x="363" y="145" width="5" height="75" fill="#32cd32"/>
<rect x="373" y="199" width="1" height="25" fill="#ff0000"/>
<rect x="371" y="215" width="5" height="5" fill="#ff0000"/>
<rect x="372" y="216" width="3" height="3" fill="#ff4500"/>
<rect x="381" y="220" width="1" height="51" fill="#32cd32"/>
<rect x="379" y="221" width="5" height="43" fill="#32cd32"/>
<rect x="389" y="262" width="1" height="30" fill="#32cd32"/>
<rect x="387" y="264" width="5" height="17" fill="#32cd32"/>
<rect x="397" y="259" width="1" height="87" fill="#32cd32"/>
<rect x="395" y="280" width="5" height="31" fill="#32cd32"/>
<rect x="405" y="298" width="1" height="39" fill="#32cd32"/>
<rect x="403" y="310" width="5" height="7" fill="#32cd32"/>
<rect x="413" y="288" width="1" height="57" fill="#ff0000"/>
<rect x="411" y="301" width="5" height="16" fill="#ff0000"/>
<rect x="412" y="302" width="3" height="14" fill="#ff4500"/>
<rect x="421" y="290" width="1" height="14" fill="#ff0000"/>
<rect x="419" y="290" width="5" height="11" fill="#ff0000"/>
<rect x="420" y="291" width="3" height="9" fill="#ff4500"/>
<rect x="429" y="274" width="1" height="28" fill="#ff0000"/>
<rect x="427" y="294" width="5" height="5" fill="#ff0000"/>
<rect x="428" y="295" width="3" height="3" fill="#ff4500"/>
<rect x="437" y="282" width="1" height="37" fill="#32cd32"/>
<rect x="435" y="295" width="5" height="12" fill="#32cd32"/>
<rect x="445" y="276" width="1" height="37" fill="#ff0000"/>
<rect x="443" y="304" width="5" height="4" fill="#ff0000"/>
<rect x="444" y="305" width="3" height="2" fill="#ff4500"/>
<rect x="453" y="261" width="1" height="51" fill="#ff0000"/>
<rect x="451" y="276" width="5" height="29" fill="#ff0000"/>
<rect x="452" y="277" width="3" height="27" fill="#ff4500"/>
<rect x="461" y="270" width="1" height="48" fill="#32cd32"/>
<rect x="459" y="276" width="5" height="28" fill="#32cd32"/>
<rect x="469" y="288" width="1" height="23" fill="#ff0000"/>
<rect x="467" y="291" width="5" height="13" fill="#ff0000"/>
<rect x="468" y="292" width="3" height="11" fill="#ff4500"/>
<rect x="477" y="262" width="1" height="41" fill="#ff0000"/>
<rect x="475" y="279" width="5" height="18" fill="#ff0000"/>
<rect x="476" y="280" width="3" height="16" fill="#ff4500"/>
<rect x="485" y="240" width="1" height="42" fill="#ff0000"/>
<rect x="483" y="250" width="5" height="30" fill="#ff0000"/>
<rect x="484" y="251" width="3" height="28" fill="#ff4500"/>
<rect x="493" y="230" width="1" height="41" fill="#ff0000"/>
<rect x="491" y="239" width="5" height="11" fill="#ff0000"/>
<rect x="492" y="240" width="3" height="9" fill="#ff4500"/>
<rect x="501" y="227" width="1" height="29" fill="#32cd32"/>
<rect x="499" y="238" width="5" height="10" fill="#32cd32"/>
<rect x="509" y="234" width="1" height="78" fill="#32cd32"/>
<rect x="507" y="249" width="5" height="48" fill="#32cd32"/>
<rect x="517" y="292" width="1" height="25" fill="#32cd32"/>
<rect x="515" y="296" width="5" height="21" fill="#32cd32"/>
<rect x="525" y="281" width="1" height="52" fill="#ff0000"/>
<rect x="523" y="299" width="5" height="26" fill="#ff0000"/>
<rect x="524" y="300" width="3" height="24" fill="#ff4500"/>
<rect x="533" y="284" width="1" height="25" fill="#ff0000"/>
<rect x="531" y="290" width="5" height="10" fill="#ff0000"/>
<rect x="532" y="291" width="3" height="8" fill="#ff4500"/>
<rect x="541" y="282" width="1" height="58" fill="#32cd32"/>
<rect x="539" y="290" width="5" height="44" fill="#32cd32"/>
<rect x="549" y="328" width="1" height="56" fill="#32cd32"/>
<rect x="547" y="333" width="5" height="42" fill="#32cd32"/>
<rect x="557" y="359" width="1" height="46" fill="#32cd32"/>
<rect x="555" y="374" width="5" height="22" fill="#32cd32"/>
<rect x="565" y="393" width="1" height="22" fill="#32cd32"/>
<rect x="563" y="395" width="5" height="7" fill="#32cd32"/>
<rect x="573" y="366" width="1" height="39" fill="#ff0000"/>
<rect x="571" y="381" width="5" height="22" fill="#ff0000"/>
<rect x="572" y="382" width="3" height="20" fill="#ff4500"/>
<rect x="581" y="362" width="1" height="32" fill="#ff0000"/>
<rect x="579" y="375" width="5" height="7" fill="#ff0000"/>
<rect x="580" y="376" width="3" height="5" fill="#ff4500"/>
<rect x="589" y="329" width="1" height="50" fill="#ff0000"/>
<rect x="587" y="349" width="5" height="28" fill="#ff0000"/>
<rect x="588" y="350" width="3" height="26" fill="#ff4500"/>
<rect x="597" y="285" width="1" height="65" fill="#ff0000"/>
<rect x="595" y="296" width="5" height="53" fill="#ff0000"/>
<rect x="596" y="297" width="3" height="51" fill="#ff4500"/>
<rect x="605" y="255" width="1" height="60" fill="#ff0000"/>
<rect x="603" y="289" width="5" height="8" fill="#ff0000"/>
<rect x="604" y="290" width="3" height="6" fill="#ff4500"/>
<rect x="613" y="275" width="1" height="22" fill="#32cd32"/>
<rect x="611" y="289" width="5" height="4" fill="#32cd32"/>
<rect x="621" y="265" width="1" height="32" fill="#ff0000"/>
<rect x="619" y="266" width="5" height="28" fill="#ff0000"/>
<rect x="620" y="267" width="3" height="26" fill="#ff4500"/>
<rect x="629" y="261" width="1" height="47" fill="#32cd32"/>
<rect x="627" y="266" width="5" height="34" fill="#32cd32"/>
<rect x="637" y="296" width="1" height="41" fill="#32cd32"/>
<rect x="635" y="298" width="5" height="16" fill="#32cd32"/>
<rect x="645" y="248" width="1" height="74" fill="#ff0000"/>
<rect x="643" y="262" width="5" height="52" fill="#ff0000"/>
<rect x="644" y="263" width="3" height="50" fill="#ff4500"/>
<rect x="653" y="258" width="1" height="42" fill="#32cd32"/>
<rect x="651" y="261" width="5" height="23" fill="#32cd32"/>
<rect x="661" y="280" width="1" height="27" fill="#32cd32"/>
<rect x="659" y="284" width="5" height="19" fill="#32cd32"/>
<rect x="669" y="301" width="1" height="17" fill="#32cd32"/>
<rect x="667" y="303" width="5" height="8" fill="#32cd32"/>
<rect x="677" y="284" width="1" height="34" fill="#ff0000"/>
<rect x="675" y="298" width="5" height="14" fill="#ff0000"/>
<rect x="676" y="299" width="3" height="12" fill="#ff4500"/>
<rect x="685" y="296" width="1" height="58" fill="#32cd32"/>
<rect x="683" y="298" width="5" height="54" fill="#32cd32"/>
<rect x="693" y="330" width="1" height="35" fill="#ff0000"/>
<rect x="691" y="344" width="5" height="8" fill="#ff0000"/>
<rect x="692" y="345" width="3" height="6" fill="#ff4500"/>
<rect x="701" y="308" width="1" height="48" fill="#ff0000"/>
<rect x="699" y="342" width="5" height="2" fill="#ff0000"/>
<rect x="709" y="338" width="1" height="37" fill="#32cd32"/>
<rect x="707" y="342" width="5" height="30" fill="#32cd32"/>
<rect x="717" y="343" width="1" height="45" fill="#ff0000"/>
<rect x="715" y="349" width="5" height="26" fill="#ff0000"/>
<rect x="716" y="350" width="3" height="24" fill="#ff4500"/>
<rect x="725" y="312" width="1" height="41" fill="#ff0000"/>
<rect x="723" y="336" width="5" height="14" fill="#ff0000"/>
<rect x="724" y="337" width="3" height="12" fill="#ff4500"/>
<rect x="733" y="334" width="1" height="51" fill="#32cd32"/>
<rect x="731" y="336" width="5" height="33" fill="#32cd32"/>
<rect x="741" y="328" width="1" height="45" fill="#ff0000"/>
<rect x="739" y="355" width="5" height="14" fill="#ff0000"/>
<rect x="740" y="356" width="3" height="12" fill="#ff4500"/>
<rect x="749" y="302" width="1" height="76" fill="#ff0000"/>
<rect x="747" y="307" width="5" height="48" fill="#ff0000"/>
<rect x="748" y="308" width="3" height="46" fill="#ff4500"/>
<rect x="757" y="271" width="1" height="39" fill="#ff0000"/>
<rect x="755" y="274" width="5" height="34" fill="#ff0000"/>
<rect x="756" y="275" width="3" height="32" fill="#ff4500"/>
<rect x="765" y="257" width="1" height="31" fill="#ff0000"/>
<rect x="763" y="259" width="5" height="28" fill="#ff0000"/>
<rect x="764" y="260" width="3" height="26" fill="#ff4500"/>
<rect x="773" y="236" width="1" height="36" fill="#ff0000"/>
<rect x="771" y="245" width="5" height="14" fill="#ff0000"/>
<rect x="772" y="246" width="3" height="12" fill="#ff4500"/>
<rect x="781" y="177" width="1" height="76" fill="#ff0000"/>
<rect x="779" y="199" width="5" height="47" fill="#ff0000"/>
<rect x="780" y="200" width="3" height="45" fill="#ff4500"/>
<rect x="789" y="182" width="1" height="22" fill="#ff0000"/>
<rect x="787" y="190" width="5" height="9" fill="#ff0000"/>
<rect x="788" y="191" width="3" height="7" fill="#ff4500"/>
<rect x="797" y="170" width="1" height="47" fill="#ff0000"/>
<rect x="795" y="188" width="5" height="4" fill="#ff0000"/>
<rect x="796" y="189" width="3" height="2" fill="#ff4500"/>
<rect x="805" y="188" width="1" height="23" fill="#32cd32"/>
<rect x="803" y="188" width="5" height="18" fill="#32cd32"/>
<rect x="813" y="187" width="1" height="28" fill="#32cd32"/>
<rect x="811" y="199" width="5" height="2" fill="#32cd32"/>
<rect x="821" y="198" width="1" height="33" fill="#32cd32"/>
<rect x="819" y="200" width="5" height="25" fill="#32cd32"/>
<rect x="829" y="222" width="1" height="45" fill="#32cd32"/>
<rect x="827" y="224" width="5" height="38" fill="#32cd32"/>
<rect x="837" y="244" width="1" height="37" fill="#32cd32"/>
<rect x="835" y="262" width="5" height="2" fill="#32cd32"/>
<rect x="845" y="229" width="1" height="51" fill="#ff0000"/>
<rect x="843" y="251" width="5" height="13" fill="#ff0000"/>
<rect x="844" y="252" width="3" height="11" fill="#ff4500"/>
<rect x="853" y="244" width="1" height="13" fill="#ff0000"/>
<rect x="851" y="245" width="5" height="7" fill="#ff0000"/>
<rect x="852" y="246" width="3" height="5" fill="#ff4500"/>
<rect x="861" y="236" width="1" height="37" fill="#ff0000"/>
<rect x="859" y="246" width="5" height="2" fill="#ff0000"/>
<rect x="869" y="233" width="1" height="71" fill="#32cd32"/>
<rect x="867" y="246" width="5" height="31" fill="#32cd32"/>
<rect x="877" y="244" width="1" height="35" fill="#ff0000"/>
<rect x="875" y="256" width="5" height="21" fill="#ff0000"/>
<rect x="876" y="257" width="3" height="19" fill="#ff4500"/>
<rect x="885" y="224" width="1" height="76" fill="#ff0000"/>
<rect x="883" y="230" width="5" height="27" fill="#ff0000"/>
<rect x="884" y="231" width="3" height="25" fill="#ff4500"/>
<rect x="893" y="196" width="1" height="46" fill="#ff0000"/>
<rect x="891" y="207" width="5" height="24" fill="#ff0000"/>
<rect x="892" y="208" width="3" height="22" fill="#ff4500"/>
<rect x="901" y="197" width="1" height="15" fill="#ff0000"/>
<rect x="899" y="203" width="5" height="5" fill="#ff0000"/>
<rect x="900" y="204" width="3" height="3" fill="#ff4500"/>
<rect x="909" y="184" width="1" height="29" fill="#32cd32"/>
<rect x="907" y="196" width="5" height="4" fill="#32cd32"/>
<rect x="917" y="193" width="1" height="37" fill="#32cd32"/>
<rect x="915" y="199" width="5" height="20" fill="#32cd32"/>
<rect x="925" y="216" width="1" height="13" fill="#32cd32"/>
<rect x="923" y="218" width="5" height="7" fill="#32cd32"/>
</g>
<g shape-rendering="crispEdges">
<rect x="757" y="166" width="227" height="2" fill="#e8222e"/>
<rect x="755" y="272" width="220" height="2" fill="#a4c60c"/>
<rect x="706" y="333" width="287" height="2" fill="#2e8ee4"/>
</g>
<g shape-rendering="crispEdges" stroke="#c0c0c0" stroke-width="1" stroke-dasharray="3 3">
<line x1="6" y1="445.5" x2="1167" y2="445.5"/><line x1="6" y1="468.5" x2="1167" y2="468.5"/>
</g>
<path d="M5 446h4v1h-4zM9 447h13v1h-13zM22 448h1v1h-1zM23 449h1v1h-1zM24 450h1v1h-1zM25 451h1v1h-1zM26 452h1v1h-1zM27 453h1v1h-1zM28 454h1v1h-1zM29 455h4v1h-4zM33 454h8v1h-8zM41 453h5v1h-5zM46 452h2v1h-2zM48 451h2v1h-2zM50 450h2v1h-2zM52 449h3v1h-3zM55 448h2v1h-2zM57 447h3v1h-3zM60 446h2v1h-2zM62 447h1v1h-1zM63 448h1v1h-1zM64 449h1v1h-1zM65 450h2v1h-2zM67 451h1v1h-1zM68 452h1v1h-1zM69 453h4v1h-4zM73 452h22v1h-22zM95 451h2v1h-2zM97 450h3v1h-3zM100 449h3v1h-3zM103 448h2v1h-2zM105 447h3v1h-3zM108 446h2v1h-2zM110 447h1v1h-1zM111 448h2v1h-2zM113 449h1v1h-1zM114 450h1v1h-1zM115 451h2v1h-2zM117 452h4v1h-4zM121 451h13v1h-13zM134 452h1v1h-1zM135 453h1v1h-1zM136 454h1v1h-1zM137 455h2v1h-2zM139 456h1v1h-1zM140 457h1v1h-1zM141 458h4v1h-4zM145 457h5v1h-5zM150 456h1v1h-1zM151 455h1v1h-1zM152 454h1v1h-1zM153 453h2v1h-2zM155 452h1v1h-1zM156 451h1v1h-1zM157 450h2v1h-2zM159 449h2v1h-2zM161 448h3v1h-3zM164 447h2v1h-2zM166 448h1v1h-1zM167 449h2v1h-2zM169 450h1v1h-1zM170 451h1v1h-1zM171 452h2v1h-2zM173 453h2v1h-2zM175 454h4v1h-4zM179 455h3v1h-3zM182 454h2v1h-2zM184 453h2v1h-2zM186 452h2v1h-2zM188 451h5v1h-5zM193 450h5v1h-5zM198 451h2v1h-2zM200 452h2v1h-2zM202 453h2v1h-2zM204 454h5v1h-5zM209 453h8v1h-8zM217 452h22v1h-22zM239 451h4v1h-4zM243 450h6v1h-6zM249 451h6v1h-6zM255 450h2v1h-2zM257 449h3v1h-3zM260 448h3v1h-3zM263 447h4v1h-4zM267 446h6v1h-6zM273 445h8v1h-8zM281 446h16v1h-16zM297 445h8v1h-8zM305 444h30v1h-30zM335 445h4v1h-4zM339 446h4v1h-4zM343 447h4v1h-4zM347 448h3v1h-3zM350 449h1v1h-1zM351 450h1v1h-1zM352 451h1v1h-1zM353 452h2v1h-2zM355 453h1v1h-1zM356 454h1v1h-1zM357 455h1v1h-1zM358 456h1v1h-1zM359 457h1v1h-1zM360 458h1v1h-1zM361 459h2v1h-2zM363 460h1v1h-1zM364 461h1v1h-1zM365 462h4v1h-4zM369 461h6v1h-6zM375 462h2v1h-2zM377 463h3v1h-3zM380 464h5v1h-5zM385 465h6v1h-6zM391 466h2v1h-2zM393 467h3v1h-3zM396 468h11v1h-11zM407 467h4v1h-4zM411 466h4v1h-4zM415 465h4v1h-4zM419 464h6v1h-6zM425 465h8v1h-8zM433 466h8v1h-8zM441 465h5v1h-5zM446 464h2v1h-2zM448 463h2v1h-2zM450 462h2v1h-2zM452 461h3v1h-3zM455 462h2v1h-2zM457 463h3v1h-3zM460 464h3v1h-3zM463 463h4v1h-4zM467 462h4v1h-4zM471 461h4v1h-4zM475 460h4v1h-4zM479 459h2v1h-2zM481 458h3v1h-3zM484 457h5v1h-5zM489 456h8v1h-8zM497 457h5v1h-5zM502 458h2v1h-2zM504 459h1v1h-1zM505 460h2v1h-2zM507 461h2v1h-2zM509 462h4v1h-4zM513 463h6v1h-6zM519 462h4v1h-4zM523 461h6v1h-6zM529 460h5v1h-5zM534 461h2v1h-2zM536 462h2v1h-2zM538 463h2v1h-2zM540 464h3v1h-3zM543 465h4v1h-4zM547 466h4v1h-4zM551 467h4v1h-4zM555 468h12v1h-12zM567 467h2v1h-2zM569 466h3v1h-3zM572 465h11v1h-11zM583 464h2v1h-2zM585 463h3v1h-3zM588 462h2v1h-2zM590 461h2v1h-2zM592 460h1v1h-1zM593 459h2v1h-2zM595 458h2v1h-2zM597 457h2v1h-2zM599 456h4v1h-4zM603 455h12v1h-12zM615 454h4v1h-4zM619 453h4v1h-4zM623 454h2v1h-2zM625 455h3v1h-3zM628 456h3v1h-3zM631 457h4v1h-4zM635 458h3v1h-3zM638 457h2v1h-2zM640 456h1v1h-1zM641 455h2v1h-2zM643 454h2v1h-2zM645 453h2v1h-2zM647 454h4v1h-4zM651 455h4v1h-4zM655 456h4v1h-4zM659 457h6v1h-6zM665 458h6v1h-6zM671 457h4v1h-4zM675 456h3v1h-3zM678 457h2v1h-2zM680 458h1v1h-1zM681 459h2v1h-2zM683 460h2v1h-2zM685 461h4v1h-4zM689 460h13v1h-13zM702 461h2v1h-2zM704 462h2v1h-2zM706 463h2v1h-2zM708 464h3v1h-3zM711 463h2v1h-2zM713 462h3v1h-3zM716 461h3v1h-3zM719 460h4v1h-4zM723 459h4v1h-4zM727 460h4v1h-4zM731 461h6v1h-6zM737 460h5v1h-5zM742 459h2v1h-2zM744 458h2v1h-2zM746 457h2v1h-2zM748 456h2v1h-2zM750 455h2v1h-2zM752 454h2v1h-2zM754 453h2v1h-2zM756 452h5v1h-5zM761 451h8v1h-8zM769 450h6v1h-6zM775 449h2v1h-2zM777 448h3v1h-3zM780 447h13v1h-13zM793 446h6v1h-6zM799 447h2v1h-2zM801 448h3v1h-3zM804 449h5v1h-5zM809 448h6v1h-6zM815 449h2v1h-2zM817 450h3v1h-3zM820 451h2v1h-2zM822 452h2v1h-2zM824 453h1v1h-1zM825 454h2v1h-2zM827 455h2v1h-2zM829 456h12v1h-12zM841 455h8v1h-8zM849 454h13v1h-13zM862 455h2v1h-2zM864 456h2v1h-2zM866 457h2v1h-2zM868 458h3v1h-3zM871 457h2v1h-2zM873 456h3v1h-3zM876 455h3v1h-3zM879 454h4v1h-4zM883 453h4v1h-4zM887 452h4v1h-4zM891 451h6v1h-6zM897 450h14v1h-14zM911 451h2v1h-2zM913 452h3v1h-3zM916 453h9v1h-9z" fill="#1e90ff" clip-path="url(#cr)" shape-rendering="crispEdges"/>
<g shape-rendering="crispEdges" clip-path="url(#cd)" fill="#c0c0c0">
<rect x="4" y="508" width="3" height="15"/>
<rect x="12" y="507" width="3" height="16"/>
<rect x="20" y="507" width="3" height="16"/>
<rect x="28" y="509" width="3" height="14"/>
<rect x="36" y="510" width="3" height="13"/>
<rect x="44" y="510" width="3" height="13"/>
<rect x="52" y="511" width="3" height="12"/>
<rect x="60" y="509" width="3" height="14"/>
<rect x="68" y="510" width="3" height="13"/>
<rect x="76" y="509" width="3" height="14"/>
<rect x="84" y="510" width="3" height="13"/>
<rect x="92" y="510" width="3" height="13"/>
<rect x="100" y="509" width="3" height="14"/>
<rect x="108" y="507" width="3" height="16"/>
<rect x="116" y="507" width="3" height="16"/>
<rect x="124" y="507" width="3" height="16"/>
<rect x="132" y="508" width="3" height="15"/>
<rect x="140" y="511" width="3" height="12"/>
<rect x="148" y="513" width="3" height="10"/>
<rect x="156" y="510" width="3" height="13"/>
<rect x="164" y="507" width="3" height="16"/>
<rect x="172" y="508" width="3" height="15"/>
<rect x="180" y="509" width="3" height="14"/>
<rect x="188" y="508" width="3" height="15"/>
<rect x="196" y="506" width="3" height="17"/>
<rect x="204" y="507" width="3" height="16"/>
<rect x="212" y="508" width="3" height="15"/>
<rect x="220" y="508" width="3" height="15"/>
<rect x="228" y="508" width="3" height="15"/>
<rect x="236" y="508" width="3" height="15"/>
<rect x="244" y="507" width="3" height="16"/>
<rect x="252" y="506" width="3" height="17"/>
<rect x="260" y="505" width="3" height="18"/>
<rect x="268" y="502" width="3" height="21"/>
<rect x="276" y="499" width="3" height="24"/>
<rect x="284" y="497" width="3" height="26"/>
<rect x="292" y="496" width="3" height="27"/>
<rect x="300" y="495" width="3" height="28"/>
<rect x="308" y="493" width="3" height="30"/>
<rect x="316" y="493" width="3" height="30"/>
<rect x="324" y="492" width="3" height="31"/>
<rect x="332" y="492" width="3" height="31"/>
<rect x="340" y="493" width="3" height="30"/>
<rect x="348" y="495" width="3" height="28"/>
<rect x="356" y="499" width="3" height="24"/>
<rect x="364" y="505" width="3" height="18"/>
<rect x="372" y="510" width="3" height="13"/>
<rect x="380" y="516" width="3" height="7"/>
<rect x="388" y="522" width="3" height="1"/>
<rect x="396" y="523" width="3" height="5"/>
<rect x="404" y="523" width="3" height="10"/>
<rect x="412" y="523" width="3" height="13"/>
<rect x="420" y="523" width="3" height="15"/>
<rect x="428" y="523" width="3" height="16"/>
<rect x="436" y="523" width="3" height="18"/>
<rect x="444" y="523" width="3" height="18"/>
<rect x="452" y="523" width="3" height="17"/>
<rect x="460" y="523" width="3" height="17"/>
<rect x="468" y="523" width="3" height="17"/>
<rect x="476" y="523" width="3" height="16"/>
<rect x="484" y="523" width="3" height="13"/>
<rect x="492" y="523" width="3" height="12"/>
<rect x="500" y="523" width="3" height="10"/>
<rect x="508" y="523" width="3" height="10"/>
<rect x="516" y="523" width="3" height="12"/>
<rect x="524" y="523" width="3" height="12"/>
<rect x="532" y="523" width="3" height="12"/>
<rect x="540" y="523" width="3" height="13"/>
<rect x="548" y="523" width="3" height="16"/>
<rect x="556" y="523" width="3" height="19"/>
<rect x="564" y="523" width="3" height="21"/>
<rect x="572" y="523" width="3" height="21"/>
<rect x="580" y="523" width="3" height="21"/>
<rect x="588" y="523" width="3" height="21"/>
<rect x="596" y="523" width="3" height="16"/>
<rect x="604" y="523" width="3" height="14"/>
<rect x="612" y="523" width="3" height="11"/>
<rect x="620" y="523" width="3" height="8"/>
<rect x="628" y="523" width="3" height="7"/>
<rect x="636" y="523" width="3" height="7"/>
<rect x="644" y="523" width="3" height="3"/>
<rect x="652" y="523" width="3" height="3"/>
<rect x="660" y="523" width="3" height="3"/>
<rect x="668" y="523" width="3" height="3"/>
<rect x="676" y="523" width="3" height="3"/>
<rect x="684" y="523" width="3" height="4"/>
<rect x="692" y="523" width="3" height="5"/>
<rect x="700" y="523" width="3" height="7"/>
<rect x="708" y="523" width="3" height="8"/>
<rect x="716" y="523" width="3" height="9"/>
<rect x="724" y="523" width="3" height="9"/>
<rect x="732" y="523" width="3" height="9"/>
<rect x="740" y="523" width="3" height="10"/>
<rect x="748" y="523" width="3" height="7"/>
<rect x="756" y="523" width="3" height="5"/>
<rect x="764" y="523" width="3" height="2"/>
<rect x="772" y="521" width="3" height="2"/>
<rect x="780" y="516" width="3" height="7"/>
<rect x="788" y="513" width="3" height="10"/>
<rect x="796" y="510" width="3" height="13"/>
<rect x="804" y="509" width="3" height="14"/>
<rect x="812" y="508" width="3" height="15"/>
<rect x="820" y="508" width="3" height="15"/>
<rect x="828" y="510" width="3" height="13"/>
<rect x="836" y="512" width="3" height="11"/>
<rect x="844" y="513" width="3" height="10"/>
<rect x="852" y="513" width="3" height="10"/>
<rect x="860" y="514" width="3" height="9"/>
<rect x="868" y="516" width="3" height="7"/>
<rect x="876" y="517" width="3" height="6"/>
<rect x="884" y="516" width="3" height="7"/>
<rect x="892" y="514" width="3" height="9"/>
<rect x="900" y="514" width="3" height="9"/>
<rect x="908" y="513" width="3" height="10"/>
<rect x="916" y="513" width="3" height="10"/>
<rect x="924" y="514" width="3" height="9"/>
</g>
<path d="M5 512h12v1h-12zM17 511h24v1h-24zM41 510h8v1h-8zM49 509h32v1h-32zM81 510h32v1h-32zM113 509h104v1h-104zM217 508h32v1h-32zM249 507h8v1h-8zM257 506h16v1h-16zM273 505h8v1h-8zM281 504h8v1h-8zM289 503h8v1h-8zM297 502h6v1h-6zM303 501h4v1h-4zM307 500h4v1h-4zM311 499h4v1h-4zM315 498h6v1h-6zM321 497h8v1h-8zM329 496h6v1h-6zM335 495h4v1h-4zM339 494h20v1h-20zM359 495h4v1h-4zM363 496h6v1h-6zM369 497h6v1h-6zM375 498h4v1h-4zM379 499h3v1h-3zM382 500h2v1h-2zM384 501h2v1h-2zM386 502h2v1h-2zM388 503h2v1h-2zM390 504h2v1h-2zM392 505h2v1h-2zM394 506h2v1h-2zM396 507h2v1h-2zM398 508h2v1h-2zM400 509h2v1h-2zM402 510h2v1h-2zM404 511h2v1h-2zM406 512h2v1h-2zM408 513h1v1h-1zM409 514h2v1h-2zM411 515h2v1h-2zM413 516h1v1h-1zM414 517h2v1h-2zM416 518h2v1h-2zM418 519h2v1h-2zM420 520h2v1h-2zM422 521h2v1h-2zM424 522h1v1h-1zM425 523h2v1h-2zM427 524h2v1h-2zM429 525h1v1h-1zM430 526h2v1h-2zM432 527h2v1h-2zM434 528h2v1h-2zM436 529h2v1h-2zM438 530h2v1h-2zM440 531h2v1h-2zM442 532h2v1h-2zM444 533h3v1h-3zM447 534h4v1h-4zM451 535h4v1h-4zM455 536h4v1h-4zM459 537h6v1h-6zM465 538h8v1h-8zM473 539h24v1h-24zM497 538h14v1h-14zM511 537h4v1h-4zM515 536h52v1h-52zM567 537h4v1h-4zM571 538h6v1h-6zM577 539h8v1h-8zM585 540h32v1h-32zM617 539h8v1h-8zM625 538h6v1h-6zM631 537h4v1h-4zM635 536h4v1h-4zM639 535h4v1h-4zM643 534h4v1h-4zM647 533h4v1h-4zM651 532h4v1h-4zM655 531h4v1h-4zM659 530h6v1h-6zM665 529h8v1h-8zM673 528h8v1h-8zM681 527h40v1h-40zM721 528h8v1h-8zM729 529h16v1h-16zM745 530h16v1h-16zM761 529h8v1h-8zM769 528h8v1h-8zM777 527h6v1h-6zM783 526h4v1h-4zM787 525h4v1h-4zM791 524h2v1h-2zM793 523h3v1h-3zM796 522h3v1h-3zM799 521h4v1h-4zM803 520h4v1h-4zM807 519h4v1h-4zM811 518h4v1h-4zM815 517h4v1h-4zM819 516h4v1h-4zM823 515h4v1h-4zM827 514h4v1h-4zM831 513h4v1h-4zM835 512h6v1h-6zM841 511h32v1h-32zM873 512h8v1h-8zM881 513h8v1h-8zM889 514h16v1h-16zM905 515h20v1h-20z" fill="#ff0000" clip-path="url(#cd)" shape-rendering="crispEdges"/>
<g shape-rendering="crispEdges" fill="#000">
<rect x="1168" y="58" width="2" height="1"/>
<rect x="1168" y="91" width="2" height="1"/>
<rect x="1168" y="124" width="2" height="1"/>
<rect x="1168" y="157" width="2" height="1"/>
<rect x="1168" y="190" width="2" height="1"/>
<rect x="1168" y="256" width="2" height="1"/>
<rect x="1168" y="289" width="2" height="1"/>
<rect x="1168" y="322" width="2" height="1"/>
<rect x="1168" y="355" width="2" height="1"/>
<rect x="1168" y="388" width="2" height="1"/>
<rect x="1168" y="421" width="2" height="1"/>
<rect x="1168" y="223" width="2" height="1"/>
<rect x="1169" y="219" width="41" height="11" fill="#000"/>
<rect x="1168" y="428" width="2" height="1"/>
<rect x="1168" y="485" width="2" height="1"/>
<rect x="1168" y="489" width="2" height="1"/>
<rect x="1168" y="523" width="2" height="1"/>
<rect x="1168" y="547" width="2" height="1"/>
</g>
<text x="1173.6" y="62" font-size="10.3" fill="#000" textLength="32.2" lengthAdjust="spacingAndGlyphs" stroke="#000" stroke-width="0.25">1.36505</text>
<text x="1173.6" y="95" font-size="10.3" fill="#000" textLength="32.2" lengthAdjust="spacingAndGlyphs" stroke="#000" stroke-width="0.25">1.35965</text>
<text x="1173.6" y="128" font-size="10.3" fill="#000" textLength="32.2" lengthAdjust="spacingAndGlyphs" stroke="#000" stroke-width="0.25">1.35425</text>
<text x="1173.6" y="161" font-size="10.3" fill="#000" textLength="32.2" lengthAdjust="spacingAndGlyphs" stroke="#000" stroke-width="0.25">1.34885</text>
<text x="1173.6" y="194" font-size="10.3" fill="#000" textLength="32.2" lengthAdjust="spacingAndGlyphs" stroke="#000" stroke-width="0.25">1.34345</text>
<text x="1173.6" y="260" font-size="10.3" fill="#000" textLength="32.2" lengthAdjust="spacingAndGlyphs" stroke="#000" stroke-width="0.25">1.33265</text>
<text x="1173.6" y="293" font-size="10.3" fill="#000" textLength="32.2" lengthAdjust="spacingAndGlyphs" stroke="#000" stroke-width="0.25">1.32725</text>
<text x="1173.6" y="326" font-size="10.3" fill="#000" textLength="32.2" lengthAdjust="spacingAndGlyphs" stroke="#000" stroke-width="0.25">1.32185</text>
<text x="1173.6" y="359" font-size="10.3" fill="#000" textLength="32.2" lengthAdjust="spacingAndGlyphs" stroke="#000" stroke-width="0.25">1.31645</text>
<text x="1173.6" y="392" font-size="10.3" fill="#000" textLength="32.2" lengthAdjust="spacingAndGlyphs" stroke="#000" stroke-width="0.25">1.31105</text>
<text x="1173.6" y="425" font-size="10.3" fill="#000" textLength="32.2" lengthAdjust="spacingAndGlyphs" stroke="#000" stroke-width="0.25">1.30565</text>
<text x="1173.6" y="228" font-size="10.3" fill="#fff" textLength="32.2" lengthAdjust="spacingAndGlyphs">1.33792</text>
<text x="1170.6" y="437" font-size="10.3" fill="#000" textLength="15" lengthAdjust="spacingAndGlyphs" stroke="#000" stroke-width="0.25">100</text>
<text x="1170.6" y="449" font-size="10.3" fill="#000" textLength="10" lengthAdjust="spacingAndGlyphs" stroke="#000" stroke-width="0.25">70</text>
<text x="1170.6" y="472" font-size="10.3" fill="#000" textLength="10" lengthAdjust="spacingAndGlyphs" stroke="#000" stroke-width="0.25">30</text>
<text x="1170.8" y="483" font-size="10.3" fill="#000" textLength="5" lengthAdjust="spacingAndGlyphs" stroke="#000" stroke-width="0.25">0</text>
<text x="1170.8" y="499" font-size="10.3" fill="#000" textLength="38" lengthAdjust="spacingAndGlyphs" stroke="#000" stroke-width="0.25">0.010525</text>
<text x="1170.8" y="527" font-size="10.3" fill="#000" textLength="18" lengthAdjust="spacingAndGlyphs" stroke="#000" stroke-width="0.25">0.00</text>
<text x="1170.8" y="544" font-size="10.3" fill="#000" textLength="30.7" lengthAdjust="spacingAndGlyphs" stroke="#000" stroke-width="0.25">-0.0073</text>
<path d="M8 41 L15 41 L11.5 37 Z" fill="#000"/>
<text x="20.2" y="42" font-size="10.3" fill="#000" textLength="65.6" lengthAdjust="spacingAndGlyphs" stroke="#000" stroke-width="0.25">USDCAD,Daily</text>
<text x="91.7" y="42" font-size="10.3" fill="#000" textLength="141" lengthAdjust="spacingAndGlyphs" stroke="#000" stroke-width="0.25">1.33886 1.33916 1.33719 1.33792</text>
<text x="9.4" y="439" font-size="10.3" fill="#000" textLength="67.5" lengthAdjust="spacingAndGlyphs" stroke="#000" stroke-width="0.25">RSI(14) 55.3893</text>
<text x="9.4" y="501" font-size="10.3" fill="#000" textLength="147" lengthAdjust="spacingAndGlyphs" stroke="#000" stroke-width="0.25">MACD(12,26,9) 0.002898 0.002630</text>
<g shape-rendering="crispEdges" fill="#000">
<rect x="5" y="548" width="1" height="3"/>
<rect x="69" y="548" width="1" height="3"/>
<rect x="133" y="548" width="1" height="3"/>
<rect x="197" y="548" width="1" height="3"/>
<rect x="261" y="548" width="1" height="3"/>
<rect x="325" y="548" width="1" height="3"/>
<rect x="389" y="548" width="1" height="3"/>
<rect x="453" y="548" width="1" height="3"/>
<rect x="517" y="548" width="1" height="3"/>
<rect x="581" y="548" width="1" height="3"/>
<rect x="645" y="548" width="1" height="3"/>
<rect x="709" y="548" width="1" height="3"/>
<rect x="773" y="548" width="1" height="3"/>
<rect x="837" y="548" width="1" height="3"/>
<rect x="901" y="548" width="1" height="3"/>
</g>
<text x="4.3" y="560" font-size="10.3" fill="#000" textLength="53.7" lengthAdjust="spacingAndGlyphs" stroke="#000" stroke-width="0.25">13 Nov 2018</text>
<text x="68.3" y="560" font-size="10.3" fill="#000" textLength="53.7" lengthAdjust="spacingAndGlyphs" stroke="#000" stroke-width="0.25">22 Nov 2018</text>
<text x="132.6" y="560" font-size="10.3" fill="#000" textLength="46.5" lengthAdjust="spacingAndGlyphs" stroke="#000" stroke-width="0.25">1 Dec 2018</text>
<text x="196.5" y="560" font-size="10.3" fill="#000" textLength="51.5" lengthAdjust="spacingAndGlyphs" stroke="#000" stroke-width="0.25">11 Dec 2018</text>
<text x="260.5" y="560" font-size="10.3" fill="#000" textLength="51" lengthAdjust="spacingAndGlyphs" stroke="#000" stroke-width="0.25">20 Dec 2018</text>
<text x="324" y="560" font-size="10.3" fill="#000" textLength="52" lengthAdjust="spacingAndGlyphs" stroke="#000" stroke-width="0.25">29 Dec 2018</text>
<text x="388.2" y="560" font-size="10.3" fill="#000" textLength="44.5" lengthAdjust="spacingAndGlyphs" stroke="#000" stroke-width="0.25">8 Jan 2019</text>
<text x="451.9" y="560" font-size="10.3" fill="#000" textLength="50" lengthAdjust="spacingAndGlyphs" stroke="#000" stroke-width="0.25">17 Jan 2019</text>
<text x="516.2" y="560" font-size="10.3" fill="#000" textLength="49.5" lengthAdjust="spacingAndGlyphs" stroke="#000" stroke-width="0.25">26 Jan 2019</text>
<text x="580.5" y="560" font-size="10.3" fill="#000" textLength="46" lengthAdjust="spacingAndGlyphs" stroke="#000" stroke-width="0.25">5 Feb 2019</text>
<text x="644.5" y="560" font-size="10.3" fill="#000" textLength="51.5" lengthAdjust="spacingAndGlyphs" stroke="#000" stroke-width="0.25">14 Feb 2019</text>
<text x="708" y="560" font-size="10.3" fill="#000" textLength="52" lengthAdjust="spacingAndGlyphs" stroke="#000" stroke-width="0.25">23 Feb 2019</text>
<text x="772.2" y="560" font-size="10.3" fill="#000" textLength="47" lengthAdjust="spacingAndGlyphs" stroke="#000" stroke-width="0.25">5 Mar 2019</text>
<text x="836.5" y="560" font-size="10.3" fill="#000" textLength="51.5" lengthAdjust="spacingAndGlyphs" stroke="#000" stroke-width="0.25">14 Mar 2019</text>
<text x="900.8" y="560" font-size="10.3" fill="#000" textLength="51.2" lengthAdjust="spacingAndGlyphs" stroke="#000" stroke-width="0.25">23 Mar 2019</text>
<g shape-rendering="crispEdges">
<rect x="8" y="50" width="52" height="25" fill="url(#gbtn)"/>
<rect x="176" y="50" width="51" height="25" fill="url(#gbtn)"/>
<rect x="8" y="74" width="109" height="40" fill="url(#gbig)"/>
<rect x="119" y="74" width="108" height="40" fill="url(#gbig)"/>
<rect x="8" y="50" width="52" height="1" fill="#c81818"/><rect x="8" y="50" width="1" height="64" fill="#c81818"/><rect x="59" y="50" width="1" height="24" fill="#c81818"/>
<rect x="176" y="50" width="51" height="1" fill="#c81818"/><rect x="226" y="50" width="1" height="64" fill="#c81818"/><rect x="176" y="50" width="1" height="24" fill="#c81818"/>
<rect x="12" y="73" width="44" height="1" fill="#b41414"/><rect x="12" y="74" width="44" height="1" fill="#f4a0a0"/>
<rect x="179" y="73" width="44" height="1" fill="#b41414"/><rect x="179" y="74" width="44" height="1" fill="#f4a0a0"/>
<rect x="59" y="74" width="58" height="1" fill="#b80c0c"/><rect x="119" y="74" width="58" height="1" fill="#b80c0c"/>
<rect x="60" y="50" width="116" height="24" fill="#ffffff"/>
<rect x="62.5" y="50.5" width="110" height="21" fill="#ffffff" stroke="#a8acb4" stroke-width="1"/>
<rect x="64" y="52" width="18" height="18" fill="url(#gsp)"/><rect x="83" y="51" width="1" height="20" fill="#a8acb4"/>
<rect x="153" y="52" width="18" height="18" fill="url(#gsp)"/><rect x="151" y="51" width="1" height="20" fill="#a8acb4"/>
</g>
<path d="M69.8 59 L75.4 59 L72.6 62.2 Z" fill="#4c5cc8"/>
<path d="M158.8 62.2 L164.4 62.2 L161.6 59 Z" fill="#4c5cc8"/>
<text x="20" y="66" font-size="12" fill="#ffe4e4" textLength="26" lengthAdjust="spacingAndGlyphs">SELL</text>
<text x="188.5" y="66" font-size="12" fill="#ffe4e4" textLength="22.5" lengthAdjust="spacingAndGlyphs">BUY</text>
<text x="124" y="65" font-size="12" fill="#000020" textLength="23" lengthAdjust="spacingAndGlyphs">0.05</text>
<text x="28" y="105" font-size="12.4" fill="#fff" textLength="23.5" lengthAdjust="spacingAndGlyphs" font-weight="bold">1.33</text>
<text x="138.5" y="105" font-size="12.4" fill="#fff" textLength="23.5" lengthAdjust="spacingAndGlyphs" font-weight="bold">1.33</text>
<text x="55.6" y="105" font-size="35" fill="#fff" textLength="36" lengthAdjust="spacingAndGlyphs" stroke="url(#gbigu)" stroke-width="0.7">79</text>
<text x="166.2" y="105" font-size="35" fill="#fff" textLength="35.5" lengthAdjust="spacingAndGlyphs" stroke="url(#gbigu)" stroke-width="0.7">81</text>
<text x="94.6" y="89" font-size="12.4" fill="#fff" font-weight="bold">2</text>
<text x="205.8" y="89" font-size="12.4" fill="#fff" font-weight="bold">6</text>
<g shape-rendering="crispEdges">
<rect x="0" y="568" width="1213" height="2" fill="#f0f0f0"/><rect x="0" y="571" width="1213" height="19" fill="#eeeeee"/>
<rect x="0" y="590" width="1213" height="3" fill="#fafafa"/>
<rect x="0" y="570" width="1213" height="1" fill="#000"/>
<rect x="0" y="571" width="1" height="18" fill="#c8c8c8"/><rect x="1" y="571" width="1" height="18" fill="#808080"/>
<rect x="315" y="570" width="103" height="18" fill="#fff"/>
<rect x="314" y="570" width="1" height="19" fill="#000"/><rect x="418" y="570" width="1" height="19" fill="#000"/><rect x="314" y="588" width="105" height="1" fill="#000"/>
<rect x="110" y="573" width="1" height="14" fill="#707070"/>
<rect x="214" y="573" width="1" height="14" fill="#707070"/>
<rect x="522" y="573" width="1" height="14" fill="#707070"/>
<rect x="618" y="573" width="1" height="14" fill="#707070"/>
<rect x="710" y="573" width="1" height="14" fill="#707070"/>
<rect x="802" y="573" width="1" height="14" fill="#707070"/>
<rect x="878" y="573" width="1" height="14" fill="#707070"/>
<rect x="981" y="573" width="1" height="14" fill="#707070"/>
<rect x="1050" y="573" width="1" height="14" fill="#707070"/>
<rect x="1142" y="573" width="1" height="14" fill="#707070"/>

</g>
<text x="18.2" y="585" font-size="12" fill="#828282" textLength="79.8" lengthAdjust="spacingAndGlyphs">EURUSD,Daily</text>
<text x="121" y="585" font-size="12" fill="#828282" textLength="82" lengthAdjust="spacingAndGlyphs">AUDUSD,Daily</text>
<text x="224.2" y="585" font-size="12" fill="#828282" textLength="78.5" lengthAdjust="spacingAndGlyphs">USDCHF,Daily</text>
<text x="325.5" y="585" font-size="12" fill="#000" textLength="81" lengthAdjust="spacingAndGlyphs">USDCAD,Daily</text>
<text x="428.7" y="585" font-size="12" fill="#828282" textLength="82.4" lengthAdjust="spacingAndGlyphs">USDCNH,Daily</text>
<text x="532.9" y="585" font-size="12" fill="#828282" textLength="73.2" lengthAdjust="spacingAndGlyphs">USDJPY,M30</text>
<text x="629.2" y="585" font-size="12" fill="#828282" textLength="69.2" lengthAdjust="spacingAndGlyphs">XAUUSD,H4</text>
<text x="721.5" y="585" font-size="12" fill="#828282" textLength="68.6" lengthAdjust="spacingAndGlyphs">GBPUSD,H1</text>
<text x="813.4" y="585" font-size="12" fill="#828282" textLength="53.3" lengthAdjust="spacingAndGlyphs">SP500,H1</text>
<text x="890.4" y="585" font-size="12" fill="#828282" textLength="79.5" lengthAdjust="spacingAndGlyphs">GBPUSD,Daily</text>
<text x="992.3" y="585" font-size="12" fill="#828282" textLength="46.4" lengthAdjust="spacingAndGlyphs">DJ30,H4</text>
<text x="1060.3" y="585" font-size="12" fill="#828282" textLength="69.7" lengthAdjust="spacingAndGlyphs">TECH100,H1</text>
<text x="1154.4" y="585" font-size="12" fill="#828282" textLength="27" lengthAdjust="spacingAndGlyphs">UKO</text>
<rect x="1177" y="571" width="36" height="18" fill="#eeeeee"/>
<path d="M1186 576 L1186 582 L1182.8 579 Z" fill="#909090"/>
<path d="M1201.8 576 L1201.8 582 L1205.2 579 Z" fill="#000"/>
</svg></body></html>
